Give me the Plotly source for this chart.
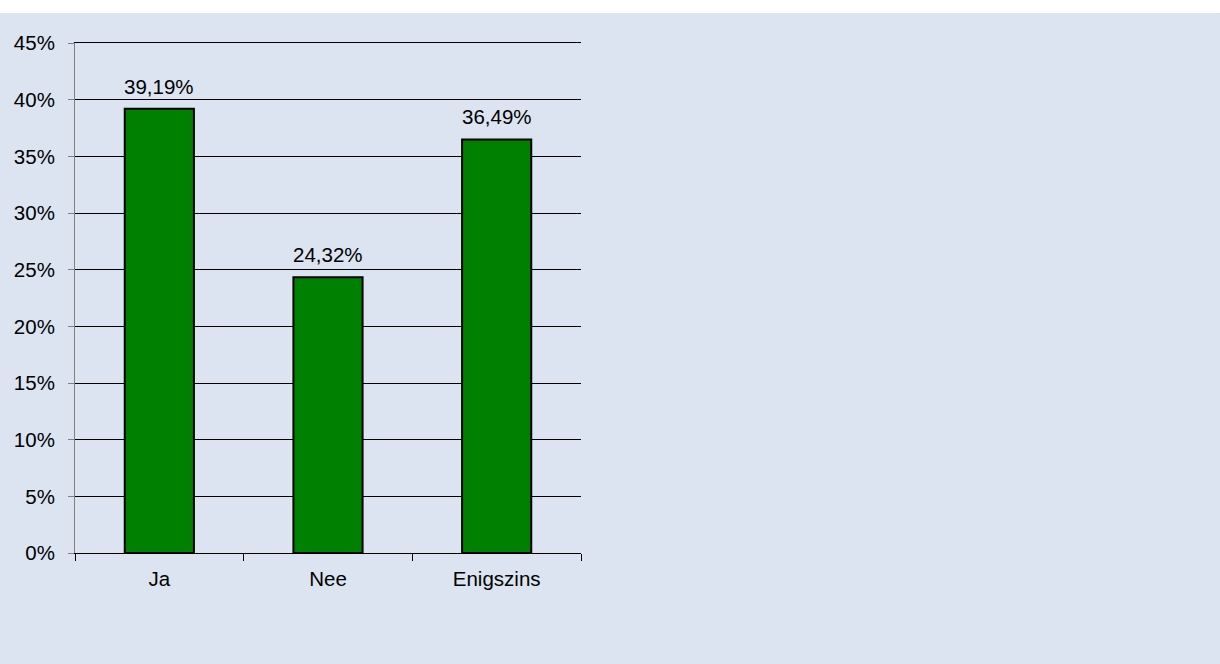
import plotly.graph_objects as go

categories = ["Ja", "Nee", "Enigszins"]
values = [39.19, 24.32, 36.49]

BG = "#dbe4f0"
FONT = dict(family="Liberation Sans, Arial, sans-serif", size=20.5, color="#000000")

fig = go.Figure()
fig.add_trace(go.Bar(
    x=categories,
    y=values,
    width=0.41,
    marker=dict(color="#008000", line=dict(color="#000000", width=2)),
    hoverinfo="skip",
))

# value labels above each bar, written with a decimal comma
for cat, v in zip(categories, values):
    fig.add_annotation(
        x=cat, y=v, xref="x", yref="y",
        text=f"{v:.2f}".replace(".", ",") + "%",
        showarrow=False, yanchor="bottom", yshift=9,
        font=FONT,
    )

# white band across the top of the page
fig.add_shape(
    type="rect", xref="paper", yref="paper",
    x0=-1, x1=3, y0=1.0588, y1=1.3,
    fillcolor="#ffffff", line=dict(width=0), layer="below",
)

fig.update_layout(
    width=1220, height=664,
    margin=dict(l=75, r=639, t=43, b=111),
    paper_bgcolor=BG,
    plot_bgcolor=BG,
    showlegend=False,
    font=FONT,
    bargap=0.59,
)
fig.update_xaxes(
    type="category",
    showline=True, linecolor="#000000", linewidth=1, mirror=True,
    ticks="outside", tickson="boundaries", ticklen=7, tickcolor="#000000",
    ticklabelstandoff=7,
    showgrid=False,
    tickfont=FONT,
)
fig.update_yaxes(
    range=[0, 45], dtick=5, ticksuffix="%",
    showline=True, linecolor="#808080", linewidth=1,
    ticks="outside", ticklen=6, tickcolor="#808080",
    ticklabelstandoff=9,
    showgrid=True, gridcolor="#000000", gridwidth=1,
    zeroline=False,
    tickfont=FONT,
)

fig.write_html("out.html")
